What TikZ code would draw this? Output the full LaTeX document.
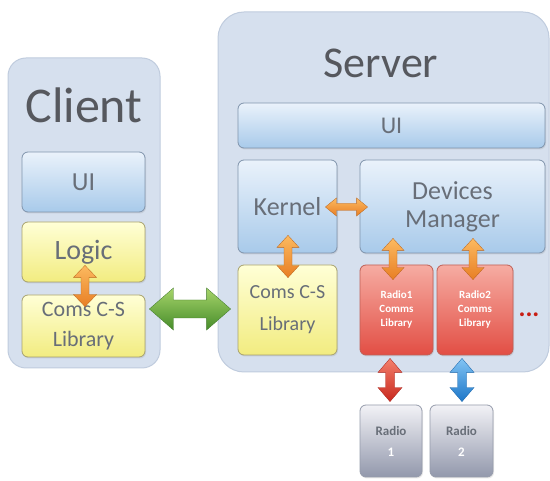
\documentclass[tikz,border=0pt]{standalone}
\usepackage{fontspec}
\setmainfont{Carlito}
\usetikzlibrary{calc,shadows}

\definecolor{panelfill}{RGB}{214,224,238}
\definecolor{paneldraw}{RGB}{192,204,222}
\definecolor{bluetop}{RGB}{234,242,251}
\definecolor{bluebot}{RGB}{168,202,234}
\definecolor{bluedraw}{RGB}{128,148,172}
\definecolor{yeltop}{RGB}{255,255,214}
\definecolor{yelbot}{RGB}{242,236,128}
\definecolor{yeldraw}{RGB}{168,162,110}
\definecolor{redtop}{RGB}{246,172,162}
\definecolor{redbot}{RGB}{226,78,68}
\definecolor{reddraw}{RGB}{190,96,86}
\definecolor{greytop}{RGB}{242,242,246}
\definecolor{greybot}{RGB}{146,152,172}
\definecolor{greydraw}{RGB}{150,156,172}
\definecolor{titletext}{RGB}{86,88,94}
\definecolor{boxtext}{RGB}{104,110,120}
\definecolor{orangetop}{RGB}{252,186,96}
\definecolor{orangebot}{RGB}{232,126,36}
\definecolor{greentop}{RGB}{166,212,106}
\definecolor{greenbot}{RGB}{70,140,42}
\definecolor{rarrtop}{RGB}{244,128,108}
\definecolor{rarrbot}{RGB}{200,40,30}
\definecolor{barrtop}{RGB}{130,196,244}
\definecolor{barrbot}{RGB}{28,118,200}
\definecolor{dotred}{RGB}{200,30,20}

% vertical fat double arrow: #1 top, #2 bottom, #3 half head width, #4 half shaft width, #5 head length, #6 style
\newcommand\vdarrow[6]{%
  \path[#6] (#1) -- ++(#3,#5) -- ++(-#3+#4,0) -- ($(#2)+(#4,-#5)$) -- ++(#3-#4,0)
    -- (#2) -- ++(-#3,-#5) -- ++(#3-#4,0) -- ($(#1)+(-#4,#5)$) -- ++(-#3+#4,0) -- cycle;}
% horizontal fat double arrow: #1 left, #2 right, then as above
\newcommand\hdarrow[6]{%
  \path[#6] (#1) -- ++(#5,-#3) -- ++(0,#3-#4) -- ($(#2)+(-#5,-#4)$) -- ++(0,-#3+#4)
    -- (#2) -- ++(-#5,#3) -- ++(0,-#3+#4) -- ($(#1)+(#5,#4)$) -- ++(0,#3-#4) -- cycle;}

\tikzset{
  panel/.style={draw=paneldraw, line width=1pt, fill=panelfill, rounded corners=#1},
  boxbase/.style={line width=0.8pt, rounded corners=6pt, inner sep=0pt, align=center,
    text=boxtext, drop shadow={opacity=0.18, shadow xshift=1pt, shadow yshift=-1.5pt}},
  bluebox/.style={boxbase, top color=bluetop, bottom color=bluebot, draw=bluedraw},
  yelbox/.style={boxbase, top color=yeltop, bottom color=yelbot, draw=yeldraw},
  redbox/.style={boxbase, top color=redtop, bottom color=redbot, draw=reddraw,
    text=white, font=\fontsize{11}{14}\selectfont\bfseries},
  greybox/.style={boxbase, top color=greytop, bottom color=greybot, draw=greydraw,
    font=\fontsize{13}{21}\selectfont\bfseries},
  title/.style={text=titletext, inner sep=0pt},
  orangearrow/.style={top color=orangetop, bottom color=orangebot, draw=orangebot!80!black, line width=0.3pt},
  greenarrow/.style={top color=greentop, bottom color=greenbot, draw=greenbot!85!black, line width=0.3pt},
  redarrow/.style={top color=rarrtop, bottom color=rarrbot, draw=rarrbot!85!black, line width=0.3pt},
  bluearrow/.style={top color=barrtop, bottom color=barrbot, draw=barrbot!85!black, line width=0.3pt},
}

\begin{document}
\begin{tikzpicture}[x=1pt, y=-1pt]
\useasboundingbox (0,0) rectangle (550,481);
\fill[white] (0,0) rectangle (550,481);

% ---- Client side ----
\node[panel=18pt, minimum width=152pt, minimum height=310pt] (client) at (84,213) {};
\node[title, font=\fontsize{50}{50}\selectfont] (clienttitle) at (84,105) {Client};
\node[bluebox, minimum width=123pt, minimum height=60pt, font=\fontsize{26}{26}\selectfont] (cui) at (83.5,182) {UI};
\node[yelbox, minimum width=123pt, minimum height=60pt, font=\fontsize{28}{28}\selectfont] (clogic) at (83.5,252) {Logic};
\node[yelbox, minimum width=123pt, minimum height=62pt, font=\fontsize{22}{30}\selectfont] (ccoms) at (83.5,326) {Coms C-S\\Library};

% ---- Server side ----
\node[panel=26pt, minimum width=331pt, minimum height=360pt] (server) at (383.5,192) {};
\node[title, font=\fontsize{44}{44}\selectfont] (servertitle) at (381,63) {Server};
\node[bluebox, minimum width=307pt, minimum height=45pt, font=\fontsize{24}{24}\selectfont] (sui) at (391.5,125.5) {UI};
\node[bluebox, minimum width=99pt, minimum height=93pt, font=\fontsize{26}{26}\selectfont] (kern) at (287.5,206.5) {Kernel};
\node[bluebox, minimum width=185pt, minimum height=93pt, font=\fontsize{26}{28}\selectfont] (devm) at (452.5,206.5) {Devices\\Manager};
\node[yelbox, minimum width=99pt, minimum height=90pt, font=\fontsize{20}{32}\selectfont] (sccs) at (287.5,310) {Coms C-S\\Library};
\node[redbox, minimum width=73pt, minimum height=90pt] (r1lib) at (396.5,310) {Radio1\\Comms\\Library};
\node[redbox, minimum width=76pt, minimum height=90pt] (r2lib) at (475,310) {Radio2\\Comms\\Library};
\node[text=dotred, font=\fontsize{26}{26}\selectfont\bfseries, inner sep=0pt] (more) at (529,315) {...};

% ---- Radios ----
\node[greybox, minimum width=62pt, minimum height=72pt] (radio1) at (391,441) {Radio\\\textcolor{white}{1}};
\node[greybox, minimum width=63pt, minimum height=72pt] (radio2) at (461.5,441) {Radio\\\textcolor{white}{2}};

% ---- Connector end points ----
\coordinate (lgTop) at ($(clogic.south)+(1.5,-17)$);
\coordinate (lgBot) at ($(ccoms.north)+(1.5,12)$);
\coordinate (csL) at ($(ccoms.east)+(4,-17)$);
\coordinate (csR) at ($(sccs.west)+(-7,-1)$);
\coordinate (kdL) at ($(kern.east)+(-12,0.5)$);
\coordinate (kdR) at ($(devm.west)+(8,0.5)$);
\coordinate (kcTop) at ($(kern.south)+(0.5,-18)$);
\coordinate (kcBot) at ($(sccs.north)+(0.5,13)$);
\coordinate (d1Top) at ($(devm.south -| r1lib.north)+(-3.5,-15)$);
\coordinate (d1Bot) at ($(r1lib.north)+(-3.5,15)$);
\coordinate (d2Top) at ($(devm.south -| r2lib.north)+(-2,-15)$);
\coordinate (d2Bot) at ($(r2lib.north)+(-2,15)$);
\coordinate (r1Top) at ($(r1lib.south)+(-6.5,3)$);
\coordinate (r1Bot) at ($(radio1.north)+(-1,-3)$);
\coordinate (r2Top) at ($(r2lib.south)+(-13,3)$);
\coordinate (r2Bot) at ($(radio2.north)+(0.5,-3)$);

% ---- Connectors ----
\vdarrow{lgTop}{lgBot}{11.5}{4}{12}{orangearrow}
\hdarrow{csL}{csR}{21}{9}{24}{greenarrow}
\hdarrow{kdL}{kdR}{9}{3.5}{11}{orangearrow}
\vdarrow{kcTop}{kcBot}{11}{4}{12}{orangearrow}
\vdarrow{d1Top}{d1Bot}{11}{4}{12}{orangearrow}
\vdarrow{d2Top}{d2Bot}{11}{4}{12}{orangearrow}
\vdarrow{r1Top}{r1Bot}{12}{4.5}{14}{redarrow}
\vdarrow{r2Top}{r2Bot}{12}{4.5}{14}{bluearrow}
\end{tikzpicture}
\end{document}
